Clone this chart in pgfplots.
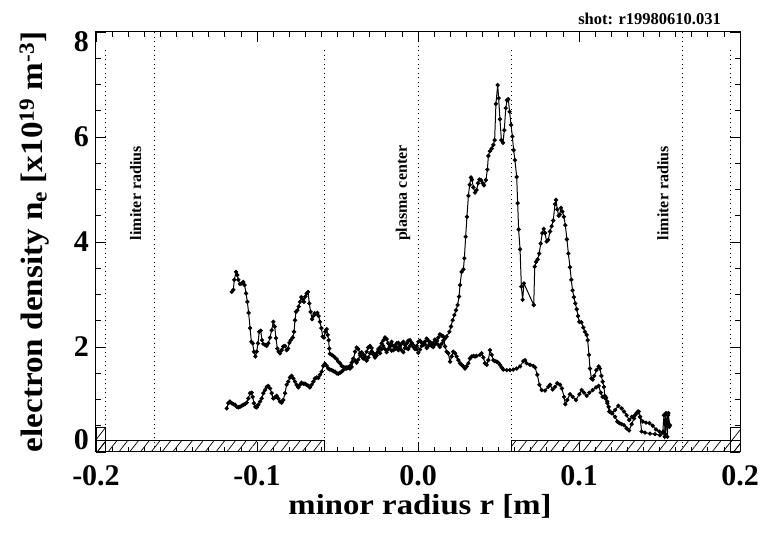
\documentclass[border=0pt]{standalone}
\usepackage{fontspec}
\setmainfont{Liberation Serif}
\usepackage{graphicx}
\usepackage{pgfplots}
\pgfplotsset{compat=1.18}
\usetikzlibrary{patterns.meta}
\begin{document}
\begin{tikzpicture}
\begin{axis}[
  scale only axis, width=644pt, height=420pt,
  xmin=-0.2, xmax=0.2, ymin=0, ymax=8,
  xtick={-0.2,-0.1,0,0.1,0.2},
  xticklabels={-0.2,-0.1,0.0,0.1,0.2},
  minor x tick num=9,
  ytick={0,2,4,6,8},
  yticklabels={\raisebox{12pt}[\height][\depth]{0},2,4,6,\raisebox{-10pt}[\height][\depth]{8}},
  minor y tick num=3,
  tick align=inside,
  major tick length=10pt, minor tick length=5pt,
  tick style={black, line width=0.8pt},
  axis line style={line width=1pt},
  ticklabel style={font=\fontsize{30}{30}\selectfont\bfseries, inner sep=0pt},
  xticklabel style={yshift=-13pt},
  yticklabel style={xshift=-7pt},
  clip=true,
]
% hatched limiter regions
\addplot[draw=black, line width=0.8pt, pattern={Lines[angle=52,distance=8.5pt,line width=0.7pt]}]
  coordinates {(-0.2,0) (-0.2,0.22) (-0.058,0.22) (-0.058,0) (-0.2,0)};
\addplot[draw=black, line width=0.8pt, pattern={Lines[angle=52,distance=8.5pt,line width=0.7pt]}]
  coordinates {(0.058,0) (0.058,0.22) (0.2,0.22) (0.2,0) (0.058,0)};
\addplot[draw=black, line width=0.8pt, pattern={Lines[angle=52,distance=8.5pt,line width=0.7pt]}]
  coordinates {(-0.2,0) (-0.2,0.47) (-0.194,0.47) (-0.194,0) (-0.2,0)};
\addplot[draw=black, line width=0.8pt, pattern={Lines[angle=52,distance=8.5pt,line width=0.7pt]}]
  coordinates {(0.194,0) (0.194,0.47) (0.2,0.47) (0.2,0) (0.194,0)};
% dotted reference lines
\addplot[black, line width=0.9pt, dash pattern=on 1pt off 3.5pt] coordinates {(-0.194,0) (-0.194,7.66)};
\addplot[black, line width=0.9pt, dash pattern=on 1pt off 3.5pt] coordinates {(0.194,0) (0.194,7.66)};
\addplot[black, line width=0.9pt, dash pattern=on 1pt off 3.5pt] coordinates {(-0.164,0) (-0.164,8)};
\addplot[black, line width=0.9pt, dash pattern=on 1pt off 3.5pt] coordinates {(0.164,0) (0.164,8)};
\addplot[black, line width=0.9pt, dash pattern=on 1pt off 3.5pt] coordinates {(-0.058,0) (-0.058,7.66)};
\addplot[black, line width=0.9pt, dash pattern=on 1pt off 3.5pt] coordinates {(0.058,0) (0.058,7.66)};
\addplot[black, line width=0.9pt, dash pattern=on 1pt off 3.5pt] coordinates {(0,0) (0,8)};
% series 1
\addplot[black, line width=1pt, mark=*, mark size=1.6pt, mark options={solid,fill=black}] coordinates {
(-0.1157,3.05) (-0.1147,3.09) (-0.1141,3.28) (-0.1130,3.43) (-0.1122,3.37) (-0.1116,3.28) (-0.1106,3.20) (-0.1095,3.21) (-0.1085,3.24) (-0.1077,3.18) (-0.1068,3.02) (-0.1060,2.86) (-0.1052,2.65) (-0.1043,2.36) (-0.1035,2.10) (-0.1027,2.07) (-0.1019,1.91) (-0.1010,1.82) (-0.1002,1.91) (-0.0994,2.07) (-0.0986,2.29) (-0.0977,2.31) (-0.0969,2.13) (-0.0961,2.06) (-0.0950,2.04) (-0.0940,2.02) (-0.0930,2.07) (-0.0919,2.18) (-0.0909,2.32) (-0.0899,2.48) (-0.0890,2.39) (-0.0882,2.17) (-0.0874,1.97) (-0.0865,1.91) (-0.0857,1.88) (-0.0847,1.94) (-0.0837,2.01) (-0.0826,2.02) (-0.0816,1.94) (-0.0807,1.97) (-0.0799,2.08) (-0.0791,2.13) (-0.0778,2.18) (-0.0770,2.29) (-0.0764,2.51) (-0.0758,2.67) (-0.0749,2.70) (-0.0741,2.77) (-0.0733,2.86) (-0.0725,2.95) (-0.0716,2.91) (-0.0708,2.86) (-0.0700,2.96) (-0.0691,3.02) (-0.0683,3.05) (-0.0675,2.83) (-0.0667,2.67) (-0.0658,2.53) (-0.0650,2.59) (-0.0642,2.64) (-0.0634,2.63) (-0.0625,2.65) (-0.0617,2.59) (-0.0609,2.48) (-0.0600,2.36) (-0.0592,2.20) (-0.0584,2.18) (-0.0576,2.29) (-0.0567,2.34) (-0.0561,2.23) (-0.0555,2.13) (-0.0551,1.97) (-0.0547,1.87) (-0.0536,1.85) (-0.0526,1.83) (-0.0516,1.80) (-0.0505,1.77) (-0.0495,1.72) (-0.0484,1.69) (-0.0474,1.64) (-0.0464,1.62) (-0.0453,1.61) (-0.0443,1.59) (-0.0433,1.61) (-0.0422,1.64)
(-0.0412,1.70) (-0.0402,1.78) (-0.0391,1.74) (-0.0381,1.70) (-0.0371,1.76) (-0.0360,1.84) (-0.0350,1.90) (-0.0340,1.86) (-0.0329,1.78) (-0.0319,1.74) (-0.0309,1.80) (-0.0298,1.88) (-0.0288,1.92) (-0.0278,1.86) (-0.0267,1.80) (-0.0257,1.84) (-0.0247,1.92) (-0.0236,1.88) (-0.0226,1.96) (-0.0215,2.02) (-0.0205,1.96) (-0.0195,1.90) (-0.0185,1.96) (-0.0174,2.04) (-0.0164,2.10) (-0.0153,2.02) (-0.0143,1.96) (-0.0133,2.00) (-0.0122,1.94) (-0.0112,1.98) (-0.0102,2.06) (-0.0091,2.10) (-0.0081,2.04) (-0.0070,1.98) (-0.0060,1.96) (-0.0050,2.02) (-0.0039,2.06) (-0.0029,2.00) (-0.0019,1.96) (-0.0008,2.02) (0.0002,2.10) (0.0012,2.12) (0.0023,2.08) (0.0033,2.04) (0.0043,2.10) (0.0054,2.16) (0.0064,2.12) (0.0074,2.06) (0.0085,2.02) (0.0095,2.08) (0.0105,2.14) (0.0116,2.10) (0.0126,2.04) (0.0136,2.00) (0.0147,2.06) (0.0157,2.12) (0.0168,2.16)
(0.0178,2.20) (0.0195,2.29) (0.0205,2.39) (0.0215,2.51) (0.0226,2.61) (0.0236,2.70) (0.0246,2.80) (0.0255,2.96) (0.0261,3.18) (0.0271,3.43) (0.0282,3.48) (0.0288,3.69) (0.0296,4.10) (0.0304,4.48) (0.0313,4.88) (0.0321,5.09) (0.0329,5.23) (0.0335,5.19) (0.0344,5.04) (0.0354,4.94) (0.0364,4.99) (0.0373,5.12) (0.0381,5.19) (0.0391,5.18) (0.0402,5.12) (0.0410,5.08) (0.0422,5.18) (0.0431,5.38) (0.0437,5.64) (0.0447,5.73) (0.0458,5.78) (0.0468,5.85) (0.0476,5.94) (0.0484,6.63) (0.0495,6.99) (0.0501,6.74) (0.0509,6.34) (0.0518,5.94) (0.0528,5.89) (0.0536,6.13) (0.0545,6.55) (0.0553,6.70) (0.0561,6.72) (0.0569,6.48) (0.0578,6.23) (0.0586,6.01) (0.0594,5.75) (0.0602,5.56) (0.0613,5.24) (0.0619,4.74) (0.0625,4.24) (0.0634,3.86) (0.0642,3.15) (0.0650,2.90) (0.0658,3.21) (0.0719,2.80) (0.0725,3.53) (0.0733,3.62) (0.0743,3.67) (0.0753,3.78) (0.0762,3.97) (0.0772,4.17) (0.0781,4.25) (0.0789,4.17) (0.0799,4.01) (0.0809,4.04) (0.0820,4.20) (0.0830,4.30) (0.0840,4.41) (0.0851,4.72) (0.0857,4.80) (0.0865,4.62) (0.0874,4.50) (0.0880,4.52) (0.0888,4.65) (0.0897,4.58) (0.0906,4.48) (0.0915,4.32) (0.0925,4.05) (0.0934,3.78) (0.0944,3.52) (0.0952,3.28) (0.0960,3.08) (0.0968,2.95) (0.0977,2.83) (0.0986,2.72) (0.0994,2.59) (0.1002,2.48) (0.1015,2.47) (0.1027,2.37) (0.1037,2.29) (0.1048,2.23) (0.1054,2.13) (0.1062,1.85) (0.1068,1.59) (0.1077,1.40) (0.1085,1.38) (0.1095,1.45) (0.1108,1.56) (0.1122,1.63) (0.1130,1.59) (0.1139,1.45) (0.1147,1.34) (0.1155,1.24) (0.1160,1.07) (0.1168,1.04) (0.1176,0.96) (0.1184,0.86) (0.1193,0.77) (0.1207,0.74) (0.1224,0.67) (0.1238,0.58) (0.1251,0.55) (0.1265,0.53) (0.1280,0.51) (0.1296,0.45) (0.1311,0.41) (0.1327,0.53) (0.1342,0.64) (0.1358,0.74) (0.1371,0.77) (0.1379,0.67) (0.1389,0.39) (0.1410,0.37) (0.1441,0.35) (0.1472,0.34) (0.1503,0.32) (0.1524,0.39) (0.1532,0.29) (0.1540,0.74) (0.1549,0.29) (0.1555,0.74) (0.1561,0.48)
};
% series 2
\addplot[black, line width=1pt, mark=*, mark size=1.6pt, mark options={solid,fill=black}] coordinates {
(-0.1188,0.83) (-0.1178,0.93) (-0.1168,0.96) (-0.1157,0.93) (-0.1147,0.91) (-0.1137,0.90) (-0.1126,0.86) (-0.1116,0.85) (-0.1106,0.86) (-0.1095,0.88) (-0.1085,0.90) (-0.1075,0.91) (-0.1064,0.94) (-0.1054,1.02) (-0.1043,1.12) (-0.1033,1.13) (-0.1027,1.05) (-0.1019,0.93) (-0.1010,0.86) (-0.1002,0.85) (-0.0992,0.90) (-0.0981,0.96) (-0.0971,1.02) (-0.0961,1.12) (-0.0950,1.18) (-0.0940,1.24) (-0.0930,1.26) (-0.0919,1.21) (-0.0909,1.12) (-0.0899,1.02) (-0.0888,1.04) (-0.0878,1.07) (-0.0868,1.02) (-0.0857,0.96) (-0.0847,0.94) (-0.0837,0.99) (-0.0826,1.12) (-0.0816,1.28) (-0.0806,1.34) (-0.0795,1.42) (-0.0785,1.45) (-0.0774,1.40) (-0.0764,1.34) (-0.0754,1.28) (-0.0743,1.23) (-0.0733,1.28) (-0.0723,1.32) (-0.0712,1.30) (-0.0702,1.30) (-0.0692,1.28) (-0.0681,1.26) (-0.0671,1.23) (-0.0661,1.28) (-0.0650,1.34) (-0.0640,1.40) (-0.0629,1.42) (-0.0619,1.41) (-0.0609,1.47) (-0.0598,1.53) (-0.0588,1.64) (-0.0578,1.68) (-0.0567,1.64) (-0.0557,1.59) (-0.0547,1.57) (-0.0536,1.56) (-0.0526,1.54) (-0.0516,1.53) (-0.0505,1.50) (-0.0495,1.49) (-0.0484,1.51) (-0.0474,1.53) (-0.0464,1.56) (-0.0453,1.59) (-0.0443,1.61) (-0.0433,1.61) (-0.0422,1.59) (-0.0412,1.62) (-0.0402,1.75) (-0.0391,1.91) (-0.0381,1.99) (-0.0371,1.96) (-0.0360,1.88) (-0.0350,1.82) (-0.0340,1.78) (-0.0329,1.82) (-0.0319,1.91) (-0.0309,1.99) (-0.0298,2.02) (-0.0288,1.98) (-0.0278,1.88) (-0.0267,1.82) (-0.0257,1.88) (-0.0247,1.96) (-0.0236,1.99) (-0.0226,2.07) (-0.0215,2.13) (-0.0205,2.18) (-0.0195,2.15) (-0.0185,2.07) (-0.0174,2.01) (-0.0164,1.93) (-0.0153,1.94) (-0.0143,2.02) (-0.0133,2.07) (-0.0122,2.08) (-0.0112,2.02) (-0.0102,1.94) (-0.0091,1.90) (-0.0081,1.98) (-0.0070,2.07) (-0.0060,2.12) (-0.0050,2.13) (-0.0039,2.08) (-0.0029,2.04) (-0.0019,1.99) (-0.0008,1.96) (0.0002,1.89) (0.0012,1.95) (0.0023,2.02) (0.0033,2.08) (0.0043,2.05) (0.0054,1.98) (0.0064,2.02) (0.0074,2.10) (0.0085,2.06) (0.0095,2.00) (0.0105,2.05) (0.0116,2.12) (0.0126,2.18) (0.0136,2.24) (0.0147,2.22) (0.0157,2.20) (0.0168,2.01) (0.0178,1.91) (0.0188,1.88) (0.0199,1.72) (0.0209,1.82) (0.0219,1.91) (0.0230,1.88) (0.0240,1.82) (0.0251,1.75) (0.0261,1.69) (0.0271,1.66) (0.0282,1.63) (0.0292,1.59) (0.0302,1.63) (0.0313,1.69) (0.0323,1.78) (0.0333,1.82) (0.0344,1.83) (0.0354,1.82) (0.0364,1.83) (0.0385,1.85) (0.0395,1.88) (0.0406,1.80) (0.0416,1.69) (0.0427,1.66) (0.0437,1.75) (0.0447,1.94) (0.0458,1.85) (0.0468,1.75) (0.0478,1.73) (0.0489,1.72) (0.0499,1.70) (0.0509,1.66) (0.0520,1.61) (0.0530,1.57) (0.0551,1.56) (0.0571,1.56) (0.0592,1.57) (0.0613,1.59) (0.0634,1.63) (0.0654,1.73) (0.0665,1.75) (0.0675,1.69) (0.0696,1.66) (0.0716,1.64) (0.0727,1.61) (0.0741,1.47) (0.0754,1.28) (0.0768,1.18) (0.0789,1.17) (0.0809,1.24) (0.0820,1.28) (0.0836,1.19) (0.0851,1.24) (0.0865,1.31) (0.0882,1.28) (0.0894,1.21) (0.0907,1.05) (0.0915,0.91) (0.0927,0.99) (0.0944,1.10) (0.0961,1.05) (0.0981,0.99) (0.1002,1.10) (0.1017,1.18) (0.1031,1.13) (0.1048,1.07) (0.1064,1.13) (0.1085,1.18) (0.1106,1.23) (0.1122,1.26) (0.1135,1.13) (0.1147,1.05) (0.1164,1.02) (0.1176,0.93) (0.1188,0.77) (0.1203,0.74) (0.1224,0.80) (0.1244,0.88) (0.1265,0.83) (0.1280,0.77) (0.1296,0.70) (0.1312,0.61) (0.1329,0.67) (0.1348,0.70) (0.1366,0.77) (0.1379,0.67) (0.1396,0.58) (0.1416,0.56) (0.1437,0.55) (0.1458,0.50) (0.1478,0.43) (0.1499,0.39) (0.1520,0.37) (0.1528,0.70) (0.1536,0.34) (0.1545,0.58) (0.1553,0.70) (0.1565,0.51)
};
% annotations
\node[rotate=90, font=\fontsize{16}{16}\selectfont\bfseries] at (axis cs:-0.1753,4.93) {limiter radius};
\node[rotate=90, font=\fontsize{16}{16}\selectfont\bfseries] at (axis cs:0.1522,4.93) {limiter radius};
\node[rotate=90, font=\fontsize{16}{16}\selectfont\bfseries] at (axis cs:-0.0093,4.93) {plasma center};
\end{axis}
\node[anchor=base east, inner sep=0pt, font=\fontsize{16.5}{16.5}\selectfont\bfseries] at (625pt,427pt) {shot: r19980610.031};
\node[anchor=base, inner sep=0pt] at (324pt,-63pt) {\scalebox{1.13}[1]{\fontsize{29}{29}\selectfont\bfseries minor radius r [m]}};
\node[rotate=90, anchor=base, inner sep=0pt] at (-53pt,210pt) {\scalebox{1.07}[1]{\fontsize{31}{31}\selectfont\bfseries electron density n\textsubscript{e} [x10\textsuperscript{19} m\textsuperscript{-3}]}};
\pgfresetboundingbox
\useasboundingbox (-96pt,-83pt) rectangle (667pt,452pt);
\end{tikzpicture}
\end{document}
